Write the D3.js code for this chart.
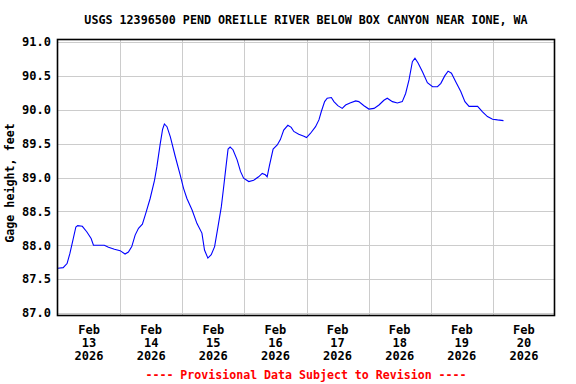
<!DOCTYPE html>
<html>
<head>
<meta charset="utf-8">
<script src="https://cdn.jsdelivr.net/npm/d3@7"></script>
<style>
  html, body { margin: 0; padding: 0; background: #fff; }
  svg { display: block; }
  text { font-family: "DejaVu Sans Mono", "Liberation Mono", monospace; font-weight: bold; }
</style>
</head>
<body>
<svg id="chart" width="576" height="384"></svg>
<script>
// ---- Data ----
const titleText = "USGS 12396500 PEND OREILLE RIVER BELOW BOX CANYON NEAR IONE, WA";
const yLabel = "Gage height, feet";
const footerText = "---- Provisional Data Subject to Revision ----";
// hours after 2026-02-13 00:00
const hours = [0, 2, 3.5, 4.6, 5.5, 6.9, 7.6, 9.4, 11.1, 12.8, 13.7, 15.6, 17.9, 19.5, 21.8, 24.0,
  25.9, 27.2, 28.5, 29.8, 31.1, 32.6, 33.9, 35.6, 37.3, 38.2, 39.5, 40.4, 41.1, 42.1, 43.4, 45.3,
  47.2, 48.5, 49.8, 51.8, 53.7, 55.6, 56.6, 57.9, 59.2, 60.5, 61.8, 63.1, 64.0, 64.9, 65.7, 66.5,
  67.6, 69.2, 70.5, 71.7, 73.7, 75.6, 77.5, 78.9, 80.1, 80.8, 81.7, 83.1, 84.7, 85.9, 87.2, 88.8,
  90.1, 91.1, 93.0, 95.0, 96.0, 97.5, 99.5, 100.8, 101.7, 103.0, 104.0, 105.6, 106.6, 108.1, 109.8,
  111.1, 112.8, 115.0, 116.2, 118.2, 120.1, 122.1, 124.0, 125.9, 127.2, 129.2, 131.1, 133.0, 134.3,
  135.6, 136.9, 137.9, 139.1, 140.8, 142.7, 144.7, 146.6, 147.9, 149.4, 150.7, 152.0, 153.7, 155.6,
  157.2, 158.8, 162.1, 164.0, 165.9, 167.9, 169.8, 172.1];
const gage = [87.66, 87.67, 87.73, 87.88, 88.03, 88.27, 88.29, 88.28, 88.20, 88.10, 88.00, 88.00, 88.00, 87.97, 87.94, 87.92,
  87.87, 87.90, 87.98, 88.15, 88.25, 88.31, 88.47, 88.69, 88.96, 89.16, 89.50, 89.71, 89.79, 89.75, 89.60, 89.31,
  89.04, 88.84, 88.69, 88.52, 88.32, 88.18, 87.93, 87.81, 87.86, 87.98, 88.27, 88.57, 88.86, 89.16, 89.42, 89.45,
  89.41, 89.26, 89.09, 88.99, 88.94, 88.96, 89.01, 89.06, 89.04, 89.01, 89.18, 89.42, 89.48, 89.56, 89.70, 89.77,
  89.74, 89.68, 89.64, 89.61, 89.59, 89.65, 89.75, 89.85, 89.97, 90.12, 90.17, 90.18, 90.12, 90.06, 90.02,
  90.07, 90.10, 90.13, 90.12, 90.06, 90.01, 90.02, 90.07, 90.14, 90.17, 90.12, 90.10, 90.12, 90.24,
  90.44, 90.71, 90.76, 90.69, 90.56, 90.40, 90.34, 90.34, 90.39, 90.50, 90.57, 90.54, 90.41, 90.27,
  90.12, 90.05, 90.05, 89.97, 89.90, 89.86, 89.85, 89.84];
const yTicks = [87.0, 87.5, 88.0, 88.5, 89.0, 89.5, 90.0, 90.5, 91.0];
const dayLabels = ["13", "14", "15", "16", "17", "18", "19", "20"];
const monthLabel = "Feb";
const yearLabel = "2026";

// ---- Layout ----
const svg = d3.select("#chart");
const pL = 58, pR = 555, pT = 40, pB = 316;
const t0 = Date.UTC(2026, 1, 13);
const x = d3.scaleUtc().domain([new Date(t0), new Date(t0 + 8 * 864e5)]).range([pL, pR]);
const y = d3.scaleLinear().domain([87, 91]).range([313, 42]);

const data = hours.map((h, i) => ({ t: new Date(t0 + h * 3600e3), v: gage[i] }));

// gridlines
const dayTicks = d3.range(1, 8).map(d => new Date(t0 + d * 864e5));
svg.append("g").selectAll("line").data(dayTicks).join("line")
  .attr("x1", d => Math.round(x(d)) + 0.5).attr("x2", d => Math.round(x(d)) + 0.5)
  .attr("y1", pT).attr("y2", pB)
  .attr("stroke", "#cccccc").attr("stroke-width", 1);
svg.append("g").selectAll("line").data(yTicks).join("line")
  .attr("x1", pL).attr("x2", pR - 1)
  .attr("y1", d => Math.round(y(d)) + 0.5).attr("y2", d => Math.round(y(d)) + 0.5)
  .attr("stroke", "#cccccc").attr("stroke-width", 1);

// y axis tick labels
const yAxis = d3.axisLeft(y).tickValues(yTicks).tickFormat(d3.format(".1f")).tickSize(0).tickPadding(7);
const gy = svg.append("g").attr("transform", `translate(${pL},0)`).call(yAxis);
gy.select(".domain").remove();
gy.selectAll("text").attr("font-size", 12).attr("fill", "#000")
  .style("font-family", '"DejaVu Sans Mono", monospace').style("font-weight", "bold");

// x axis labels (centered at noon)
const noonTicks = d3.range(0, 8).map(d => new Date(t0 + d * 864e5 + 12 * 3600e3));
const xl = svg.append("g").selectAll("text").data(noonTicks).join("text")
  .attr("x", d => x(d)).attr("text-anchor", "middle").attr("font-size", 12).attr("fill", "#000");
xl.append("tspan").attr("x", d => x(d)).attr("y", 334).text(monthLabel);
xl.append("tspan").attr("x", d => x(d)).attr("y", 347).text((d, i) => dayLabels[i]);
xl.append("tspan").attr("x", d => x(d)).attr("y", 359.5).text(yearLabel);

// line
const line = d3.line().x(d => x(d.t)).y(d => y(d.v));
svg.append("path").datum(data).attr("d", line)
  .attr("fill", "none").attr("stroke", "#0000ff").attr("stroke-width", 1.1);

// frame
svg.append("rect").attr("x", pL - 0.5).attr("y", pT - 0.5)
  .attr("width", pR - pL).attr("height", pB - pT)
  .attr("fill", "none").attr("stroke", "#000").attr("stroke-width", 1.6);

// title
svg.append("text").attr("x", 306).attr("y", 24).attr("text-anchor", "middle")
  .attr("font-size", 11.7).attr("fill", "#000").text(titleText);

// y label
svg.append("text").attr("transform", "translate(14,183) rotate(-90)")
  .attr("text-anchor", "middle").attr("font-size", 11.7).attr("fill", "#000").text(yLabel);

// footer
svg.append("text").attr("x", 306).attr("y", 378.5).attr("text-anchor", "middle")
  .attr("font-size", 11.6).attr("fill", "#ff0000").text(footerText);
</script>
</body>
</html>
